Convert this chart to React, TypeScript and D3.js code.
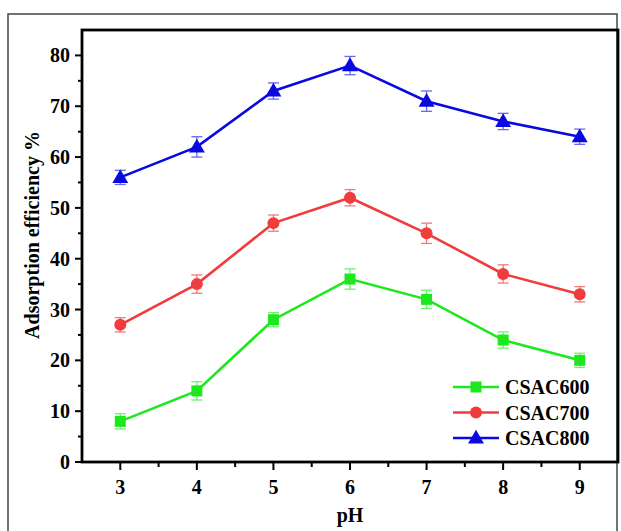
import React from 'react';
import * as d3 from 'd3';

const phValues = [3, 4, 5, 6, 7, 8, 9];
const csac600 = [8, 14, 28, 36, 32, 24, 20];
const csac600Err = [1.5, 1.8, 1.4, 2, 1.8, 1.6, 1.4];
const csac700 = [27, 35, 47, 52, 45, 37, 33];
const csac700Err = [1.4, 1.8, 1.6, 1.6, 2, 1.8, 1.5];
const csac800 = [56, 62, 73, 78, 71, 67, 64];
const csac800Err = [1.4, 2, 1.6, 1.8, 2, 1.6, 1.5];
const yTicks = [0, 10, 20, 30, 40, 50, 60, 70, 80];
const yMinor = [5, 15, 25, 35, 45, 55, 65, 75];
const xMinor = [3.5, 4.5, 5.5, 6.5, 7.5, 8.5];

const series = [
  { name: 'CSAC600', values: csac600, err: csac600Err, color: '#1de81d', errColor: '#6ff06f', shape: 'square' },
  { name: 'CSAC700', values: csac700, err: csac700Err, color: '#f03c3c', errColor: '#f07c7c', shape: 'circle' },
  { name: 'CSAC800', values: csac800, err: csac800Err, color: '#0a0ae0', errColor: '#6868e8', shape: 'triangle' },
];

const font = '"Liberation Serif", "Times New Roman", serif';

const margin = { top: 30, right: 3, bottom: 69, left: 82 };
const W = 621;
const H = 531;

const Marker = ({ shape, x, y, color }) => {
  if (shape === 'square') return <rect x={x - 5.5} y={y - 5.5} width={11} height={11} fill={color} />;
  if (shape === 'circle') return <circle cx={x} cy={y} r={6} fill={color} />;
  const sym = d3.symbol().type(d3.symbolTriangle).size(110)();
  return <path d={sym} transform={`translate(${x},${y + 1})`} fill={color} />;
};

export default function App() {
  const x = d3.scaleLinear().domain([2.5, 9.5]).range([margin.left, W - margin.right]);
  const y = d3.scaleLinear().domain([0, 85]).range([H - margin.bottom, margin.top]);
  const x0 = x.range()[0];
  const x1 = x.range()[1];
  const y0 = y.range()[0];
  const y1 = y.range()[1];

  const line = d3
    .line<number>()
    .x((_, i) => x(phValues[i]))
    .y((d) => y(d));

  return (
    <div style={{ position: 'absolute', left: 0, top: 0 }}>
      <svg width={W} height={H} style={{ display: 'block', background: '#fff' }}>
        <rect x={8} y={14} width={609} height={530} fill="none" stroke="#444" strokeWidth={1.5} />

        {/* y ticks */}
        {yTicks.map((t) => (
          <g key={t}>
            <line x1={x0 - 7} x2={x0} y1={y(t)} y2={y(t)} stroke="#000" strokeWidth={2} />
            <text x={x0 - 12} y={y(t)} dy="0.35em" textAnchor="end" fontFamily={font} fontWeight="bold" fontSize={20}>
              {t}
            </text>
          </g>
        ))}
        {yMinor.map((t) => (
          <line key={t} x1={x0 - 4} x2={x0} y1={y(t)} y2={y(t)} stroke="#000" strokeWidth={2} />
        ))}

        {/* x ticks */}
        {phValues.map((t) => (
          <g key={t}>
            <line x1={x(t)} x2={x(t)} y1={y0} y2={y0 + 8} stroke="#000" strokeWidth={2} />
            <text x={x(t)} y={y0 + 32} textAnchor="middle" fontFamily={font} fontWeight="bold" fontSize={20}>
              {t}
            </text>
          </g>
        ))}
        {xMinor.map((t) => (
          <line key={t} x1={x(t)} x2={x(t)} y1={y0} y2={y0 + 5} stroke="#000" strokeWidth={2} />
        ))}

        {/* error bars */}
        {series.map((s) =>
          s.values.map((v, i) => {
            const cx = x(phValues[i]);
            const top = y(v + s.err[i]);
            const bot = y(v - s.err[i]);
            return (
              <g key={s.name + i} stroke={s.errColor} strokeWidth={1.3}>
                <line x1={cx} x2={cx} y1={top} y2={bot} />
                <line x1={cx - 5.5} x2={cx + 5.5} y1={top} y2={top} />
                <line x1={cx - 5.5} x2={cx + 5.5} y1={bot} y2={bot} />
              </g>
            );
          })
        )}

        {/* lines and markers */}
        {series.map((s) => (
          <g key={s.name}>
            <path d={line(s.values) || ''} fill="none" stroke={s.color} strokeWidth={2.6} />
            {s.values.map((v, i) => (
              <Marker key={i} shape={s.shape} x={x(phValues[i])} y={y(v)} color={s.color} />
            ))}
          </g>
        ))}

        {/* legend */}
        {series.map((s, i) => {
          const ly = 387 + i * 25.5;
          return (
            <g key={s.name}>
              <line x1={453} x2={499} y1={ly} y2={ly} stroke={s.color} strokeWidth={2.6} />
              <Marker shape={s.shape} x={476} y={ly} color={s.color} />
              <text x={505} y={ly} dy="0.35em" fontFamily={font} fontWeight="bold" fontSize={20}>
                {s.name}
              </text>
            </g>
          );
        })}

        {/* frame */}
        <rect x={x0} y={y1} width={x1 - x0} height={y0 - y1} fill="none" stroke="#000" strokeWidth={2.8} />

        {/* axis titles */}
        <text
          transform={`translate(32,235) rotate(-90)`}
          textAnchor="middle"
          dy="0.35em"
          fontFamily={font}
          fontWeight="bold"
          fontSize={20}
        >
          Adsorption efficiency %
        </text>
        <text x={x(6)} y={522} textAnchor="middle" fontFamily={font} fontWeight="bold" fontSize={20}>
          pH
        </text>
      </svg>
    </div>
  );
}
